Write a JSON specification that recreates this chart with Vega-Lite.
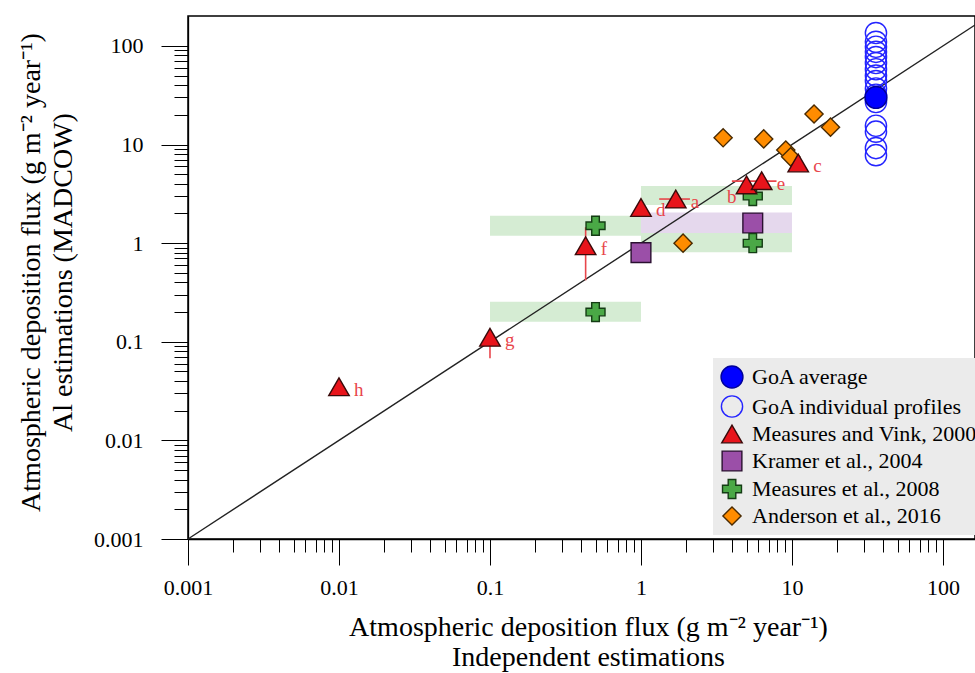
{
  "$schema": "https://vega.github.io/schema/vega-lite/v6.json",
  "width": 787,
  "height": 523,
  "autosize": "none",
  "padding": {"left": 188, "top": 16, "right": 0, "bottom": 134},
  "background": "white",
  "config": {
    "view": {"stroke": "black", "strokeWidth": 1.5},
    "font": "Liberation Serif",
    "axis": {"domainColor": "black", "domainWidth": 1.3, "tickColor": "black", "tickWidth": 1, "labelColor": "black", "titleColor": "black", "grid": false, "labelFont": "Liberation Serif", "titleFont": "Liberation Serif", "titleFontWeight": "normal"}
  },
  "datasets": {
    "bands": [
      {"x": 0.1, "x2": 1, "y": 1.19, "y2": 1.9, "k": "g"},
      {"x": 1, "x2": 10, "y": 2.44, "y2": 3.8, "k": "g"},
      {"x": 1, "x2": 10, "y": 0.81, "y2": 1.27, "k": "g"},
      {"x": 1, "x2": 10, "y": 1.27, "y2": 2.04, "k": "p"},
      {"x": 0.1, "x2": 1, "y": 0.16, "y2": 0.255, "k": "g"}
    ],
    "line": [{"x": 0.001, "y": 0.001}, {"x": 163, "y": 163}],
    "bars": [
      {"x": 1.32, "x2": 2.11, "y": 2.8, "y2": 2.8},
      {"x": 4.0, "x2": 7.9, "y": 4.25, "y2": 4.25},
      {"x": 0.43, "x2": 0.43, "y": 0.42, "y2": 1.45},
      {"x": 0.1, "x2": 0.1, "y": 0.068, "y2": 0.111},
      {"x": 11, "x2": 11, "y": 5.4, "y2": 6.5}
    ],
    "points": [
      {"s": "GoA individual profiles", "x": 36, "y": 135},
      {"s": "GoA individual profiles", "x": 36, "y": 110},
      {"s": "GoA individual profiles", "x": 36, "y": 98},
      {"s": "GoA individual profiles", "x": 36, "y": 87},
      {"s": "GoA individual profiles", "x": 36, "y": 77},
      {"s": "GoA individual profiles", "x": 36, "y": 67},
      {"s": "GoA individual profiles", "x": 36, "y": 58},
      {"s": "GoA individual profiles", "x": 36, "y": 50},
      {"s": "GoA individual profiles", "x": 36, "y": 44},
      {"s": "GoA individual profiles", "x": 36, "y": 37},
      {"s": "GoA individual profiles", "x": 36, "y": 32},
      {"s": "GoA individual profiles", "x": 36, "y": 27},
      {"s": "GoA individual profiles", "x": 36, "y": 15.5},
      {"s": "GoA individual profiles", "x": 36, "y": 13.5},
      {"s": "GoA individual profiles", "x": 36, "y": 9.2},
      {"s": "GoA individual profiles", "x": 36, "y": 7.8},
      {"s": "Anderson et al., 2016", "x": 3.5, "y": 11.7},
      {"s": "Anderson et al., 2016", "x": 6.5, "y": 11.4},
      {"s": "Anderson et al., 2016", "x": 14, "y": 20.4},
      {"s": "Anderson et al., 2016", "x": 18, "y": 15},
      {"s": "Anderson et al., 2016", "x": 9.1, "y": 8.8},
      {"s": "Anderson et al., 2016", "x": 9.8, "y": 7.5},
      {"s": "Anderson et al., 2016", "x": 1.9, "y": 1.0},
      {"s": "Kramer et al., 2004", "x": 1.0, "y": 0.8},
      {"s": "Kramer et al., 2004", "x": 5.5, "y": 1.6},
      {"s": "Measures et al., 2008", "x": 0.5, "y": 1.5},
      {"s": "Measures et al., 2008", "x": 5.5, "y": 3.0},
      {"s": "Measures et al., 2008", "x": 5.5, "y": 1.0},
      {"s": "Measures et al., 2008", "x": 0.5, "y": 0.2},
      {"s": "Measures and Vink, 2000", "x": 1.7, "y": 2.8, "lab": "a"},
      {"s": "Measures and Vink, 2000", "x": 1.0, "y": 2.3, "lab": "d"},
      {"s": "Measures and Vink, 2000", "x": 5.0, "y": 3.9, "lab": "b"},
      {"s": "Measures and Vink, 2000", "x": 6.3, "y": 4.3, "lab": "e"},
      {"s": "Measures and Vink, 2000", "x": 11, "y": 6.5, "lab": "c"},
      {"s": "Measures and Vink, 2000", "x": 0.43, "y": 0.94, "lab": "f"},
      {"s": "Measures and Vink, 2000", "x": 0.1, "y": 0.111, "lab": "g"},
      {"s": "Measures and Vink, 2000", "x": 0.01, "y": 0.035, "lab": "h"},
      {"s": "GoA average", "x": 36, "y": 30}
    ]
  },
  "encoding": {
    "x": {
      "field": "x", "type": "quantitative",
      "scale": {"type": "log", "domain": [0.001, 163], "nice": false},
      "axis": {
        "values": [0.001,0.002,0.003,0.004,0.005,0.006,0.007,0.008,0.009,0.01,0.02,0.03,0.04,0.05,0.06,0.07,0.08,0.09,0.1,0.2,0.3,0.4,0.5,0.6,0.7,0.8,0.9,1,2,3,4,5,6,7,8,9,10,20,30,40,50,60,70,80,90,100],
        "format": "~g",
        "labelExpr": "abs(log(datum.value)/LN10 - round(log(datum.value)/LN10)) < 1e-6 ? datum.label : ''",
        "tickSize": {"condition": {"test": "abs(log(datum.value)/LN10 - round(log(datum.value)/LN10)) < 1e-6", "value": 26}, "value": 13},
        "labelFontSize": 22, "labelPadding": 12, "labelFlush": false, "labelOverlap": false,
        "title": ["Atmospheric deposition flux (g m\u207B\u00B2 year\u207B\u00B9)", "Independent estimations"],
        "titleFontSize": 28, "titlePadding": 15, "titleLineHeight": 30, "titleX": 400
      }
    },
    "y": {
      "field": "y", "type": "quantitative",
      "scale": {"type": "log", "domain": [0.001, 201], "nice": false},
      "axis": {
        "values": [0.001,0.002,0.003,0.004,0.005,0.006,0.007,0.008,0.009,0.01,0.02,0.03,0.04,0.05,0.06,0.07,0.08,0.09,0.1,0.2,0.3,0.4,0.5,0.6,0.7,0.8,0.9,1,2,3,4,5,6,7,8,9,10,20,30,40,50,60,70,80,90,100],
        "format": "~g",
        "labelExpr": "abs(log(datum.value)/LN10 - round(log(datum.value)/LN10)) < 1e-6 ? datum.label : ''",
        "tickSize": {"condition": {"test": "abs(log(datum.value)/LN10 - round(log(datum.value)/LN10)) < 1e-6", "value": 27}, "value": 14},
        "labelFontSize": 22, "labelPadding": 18, "labelOverlap": false, "labelFlush": false,
        "title": ["Atmospheric deposition flux (g m\u207B\u00B2 year\u207B\u00B9)", "Al estimations (MADCOW)"],
        "titleFontSize": 28, "titlePadding": 16, "titleLineHeight": 32, "titleY": 256
      }
    }
  },
  "layer": [
    {
      "data": {"name": "bands"},
      "mark": {"type": "rect"},
      "encoding": {
        "x": {"field": "x", "type": "quantitative"},
        "x2": {"field": "x2"},
        "y": {"field": "y", "type": "quantitative"},
        "y2": {"field": "y2"},
        "color": {"field": "k", "type": "nominal", "scale": {"domain": ["g", "p"], "range": ["#d5ecd3", "#e5d8ed"]}, "legend": null}
      }
    },
    {
      "data": {"name": "line"},
      "mark": {"type": "line", "color": "#222222", "strokeWidth": 1.4},
      "encoding": {}
    },
    {
      "data": {"name": "bars"},
      "mark": {"type": "rule", "color": "#e8464c", "strokeWidth": 1.6},
      "encoding": {
        "x2": {"field": "x2"},
        "y2": {"field": "y2"}
      }
    },
    {
      "data": {"name": "points"},
      "mark": {"type": "point", "filled": true, "strokeWidth": 1.4, "opacity": 1},
      "encoding": {
        "shape": {"field": "s", "type": "nominal", "scale": {"domain": ["GoA average", "GoA individual profiles", "Measures and Vink, 2000", "Kramer et al., 2004", "Measures et al., 2008", "Anderson et al., 2016"], "range": ["circle", "circle", "triangle-up", "square", "cross", "diamond"]},
          "legend": {"orient": "none", "legendX": 525, "legendY": 342, "title": null, "fillColor": "#ebebeb", "padding": 7, "labelFont": "Liberation Serif", "labelFontSize": 22, "labelColor": "black", "labelLimit": 400, "symbolStrokeWidth": 1.4, "rowPadding": 2, "labelOffset": 8, "symbolOpacity": 1}},
        "fill": {"field": "s", "type": "nominal", "scale": {"domain": ["GoA average", "GoA individual profiles", "Measures and Vink, 2000", "Kramer et al., 2004", "Measures et al., 2008", "Anderson et al., 2016"], "range": ["#0000ff", "transparent", "#e8141b", "#9b4fa8", "#4aa846", "#ff8c00"]}},
        "stroke": {"field": "s", "type": "nominal", "scale": {"domain": ["GoA average", "GoA individual profiles", "Measures and Vink, 2000", "Kramer et al., 2004", "Measures et al., 2008", "Anderson et al., 2016"], "range": ["#00009a", "#2424ff", "#3a0a0a", "#2a1030", "#143c14", "#4a2a00"]}},
        "size": {"field": "s", "type": "nominal", "scale": {"domain": ["GoA average", "GoA individual profiles", "Measures and Vink, 2000", "Kramer et al., 2004", "Measures et al., 2008", "Anderson et al., 2016"], "range": [480, 330, 420, 450, 430, 620]}}
      }
    },
    {
      "data": {"name": "points"},
      "transform": [{"filter": "datum.lab && datum.lab != 'b'"}],
      "mark": {"type": "text", "color": "#e8464c", "font": "Liberation Serif", "fontSize": 19, "align": "left", "baseline": "middle", "dx": 15, "dy": 3},
      "encoding": {"text": {"field": "lab"}}
    },
    {
      "data": {"name": "points"},
      "transform": [{"filter": "datum.lab == 'b'"}],
      "mark": {"type": "text", "color": "#e8464c", "font": "Liberation Serif", "fontSize": 19, "align": "right", "baseline": "middle", "dx": -10, "dy": 12},
      "encoding": {"text": {"field": "lab"}}
    }
  ]
}
